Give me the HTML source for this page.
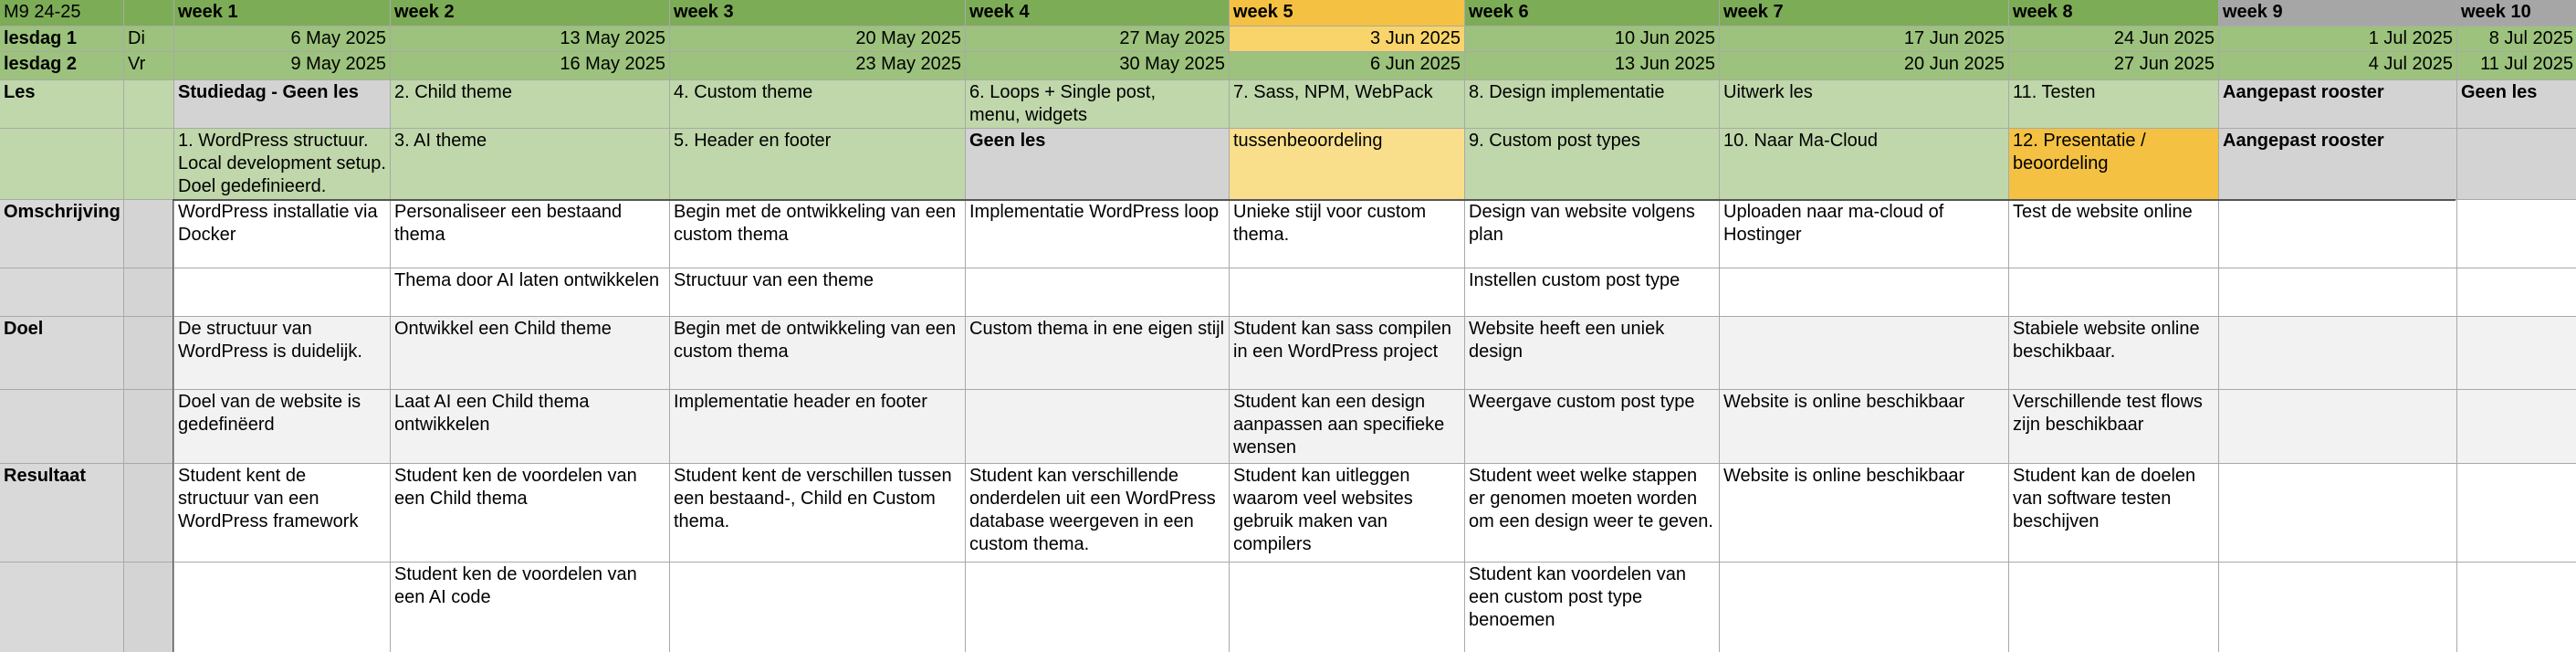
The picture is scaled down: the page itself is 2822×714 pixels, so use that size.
<!DOCTYPE html>
<html><head><meta charset="utf-8"><style>
html,body{margin:0;padding:0;background:#fff;}
#g{position:absolute;left:0;top:0;width:2822px;height:714px;display:grid;
grid-template-columns:135px 54px 236px 305px 323px 288px 257px 278px 316px 229px 260px 131px;
grid-template-rows:28px 27px 30px 52px 77px 74px 52px 79px 80px 107px 98px;
gap:1px;background:#a9a9a9;
font-family:"Liberation Sans Narrow","Liberation Sans",sans-serif;font-size:20px;line-height:25px;color:#000;}
#g>div{padding:1px 4px;white-space:nowrap;overflow:hidden;background:#fff;}
.h{background:#7dac57!important;font-weight:bold;}
.hg{background:#a6a6a6!important;font-weight:bold;}
.ho{background:#f4c142!important;font-weight:bold;}
.d{background:#9cc27d!important;text-align:right;}
.dk{background:#9cc27d!important;font-weight:bold;}
.dy{background:#f8d46a!important;text-align:right;}
.l{background:#bfd7aa!important;}
.lb{background:#bfd7aa!important;font-weight:bold;}
.gr{background:#d3d3d3!important;font-weight:bold;}
.gy{background:#f9df8c!important;}
.or{background:#f4c142!important;}
.lab{background:#d9d9d9!important;font-weight:bold;}
.lab2{background:#d4d4d4!important;}
.e{background:#f2f2f2!important;}
</style></head><body>
<div id="g">
<!-- row 1 -->
<div class="h" style="font-weight:normal">M9 24-25</div><div class="h"></div>
<div class="h">week 1</div><div class="h">week 2</div><div class="h">week 3</div><div class="h">week 4</div>
<div class="ho">week 5</div><div class="h">week 6</div><div class="h">week 7</div><div class="h">week 8</div>
<div class="hg">week 9</div><div class="hg">week 10</div>
<!-- row 2 -->
<div class="dk">lesdag 1</div><div class="d" style="text-align:left">Di</div>
<div class="d">6 May 2025</div><div class="d">13 May 2025</div><div class="d">20 May 2025</div><div class="d">27 May 2025</div>
<div class="dy">3 Jun 2025</div><div class="d">10 Jun 2025</div><div class="d">17 Jun 2025</div><div class="d">24 Jun 2025</div>
<div class="d">1 Jul 2025</div><div class="d">8 Jul 2025</div>
<!-- row 3 -->
<div class="dk">lesdag 2</div><div class="d" style="text-align:left">Vr</div>
<div class="d">9 May 2025</div><div class="d">16 May 2025</div><div class="d">23 May 2025</div><div class="d">30 May 2025</div>
<div class="d">6 Jun 2025</div><div class="d">13 Jun 2025</div><div class="d">20 Jun 2025</div><div class="d">27 Jun 2025</div>
<div class="d">4 Jul 2025</div><div class="d">11 Jul 2025</div>
<!-- row 4 Les -->
<div class="lb">Les</div><div class="l"></div>
<div class="gr">Studiedag - Geen les</div><div class="l">2. Child theme</div><div class="l">4. Custom theme</div>
<div class="l">6. Loops + Single post,<br>menu, widgets</div><div class="l">7. Sass, NPM, WebPack</div>
<div class="l">8. Design implementatie</div><div class="l">Uitwerk les</div><div class="l">11. Testen</div>
<div class="gr">Aangepast rooster</div><div class="gr">Geen les</div>
<!-- row 5 -->
<div class="l"></div><div class="l"></div>
<div class="l">1. WordPress structuur.<br>Local development setup.<br>Doel gedefinieerd.</div>
<div class="l">3. AI theme</div><div class="l">5. Header en footer</div><div class="gr">Geen les</div>
<div class="gy">tussenbeoordeling</div><div class="l">9. Custom post types</div><div class="l">10. Naar Ma-Cloud</div>
<div class="or">12. Presentatie /<br>beoordeling</div><div class="gr">Aangepast rooster</div><div class="gr"></div>
<!-- row 6 Omschrijving -->
<div class="lab">Omschrijving</div><div class="lab2"></div>
<div>WordPress installatie via<br>Docker</div><div>Personaliseer een bestaand<br>thema</div>
<div>Begin met de ontwikkeling van een<br>custom thema</div><div>Implementatie WordPress loop</div>
<div>Unieke stijl voor custom<br>thema.</div><div>Design van website volgens<br>plan</div>
<div>Uploaden naar ma-cloud of<br>Hostinger</div><div>Test de website online</div><div></div><div></div>
<!-- row 7 -->
<div class="lab" style="font-weight:normal"></div><div class="lab2"></div>
<div></div><div>Thema door AI laten ontwikkelen</div><div>Structuur van een theme</div><div></div><div></div>
<div>Instellen custom post type</div><div></div><div></div><div></div><div></div>
<!-- row 8 Doel -->
<div class="lab">Doel</div><div class="lab2"></div>
<div class="e">De structuur van<br>WordPress is duidelijk.</div><div class="e">Ontwikkel een Child theme</div>
<div class="e">Begin met de ontwikkeling van een<br>custom thema</div><div class="e">Custom thema in ene eigen stijl</div>
<div class="e">Student kan sass compilen<br>in een WordPress project</div><div class="e">Website heeft een uniek<br>design</div>
<div class="e"></div><div class="e">Stabiele website online<br>beschikbaar.</div><div class="e"></div><div class="e"></div>
<!-- row 9 -->
<div class="lab"></div><div class="lab2"></div>
<div class="e">Doel van de website is<br>gedefinëerd</div><div class="e">Laat AI een Child thema<br>ontwikkelen</div>
<div class="e">Implementatie header en footer</div><div class="e"></div>
<div class="e">Student kan een design<br>aanpassen aan specifieke<br>wensen</div><div class="e">Weergave custom post type</div>
<div class="e">Website is online beschikbaar</div><div class="e">Verschillende test flows<br>zijn beschikbaar</div><div class="e"></div><div class="e"></div>
<!-- row 10 Resultaat -->
<div class="lab">Resultaat</div><div class="lab2"></div>
<div>Student kent de<br>structuur van een<br>WordPress framework</div><div>Student ken de voordelen van<br>een Child thema</div>
<div>Student kent de verschillen tussen<br>een bestaand-, Child en Custom<br>thema.</div>
<div>Student kan verschillende<br>onderdelen uit een WordPress<br>database weergeven in een<br>custom thema.</div>
<div>Student kan uitleggen<br>waarom veel websites<br>gebruik maken van<br>compilers</div>
<div>Student weet welke stappen<br>er genomen moeten worden<br>om een design weer te geven.</div>
<div>Website is online beschikbaar</div><div>Student kan de doelen<br>van software testen<br>beschijven</div><div></div><div></div>
<!-- row 11 -->
<div class="lab"></div><div class="lab2"></div>
<div></div><div>Student ken de voordelen van<br>een AI code</div><div></div><div></div><div></div>
<div>Student kan voordelen van<br>een custom post type<br>benoemen</div><div></div><div></div><div></div><div></div>
</div>
<div style="position:absolute;left:190px;top:218px;width:2500px;height:2px;background:#555"></div>
<div style="position:absolute;left:189px;top:218px;width:1px;height:496px;background:#555"></div>
</body></html>
